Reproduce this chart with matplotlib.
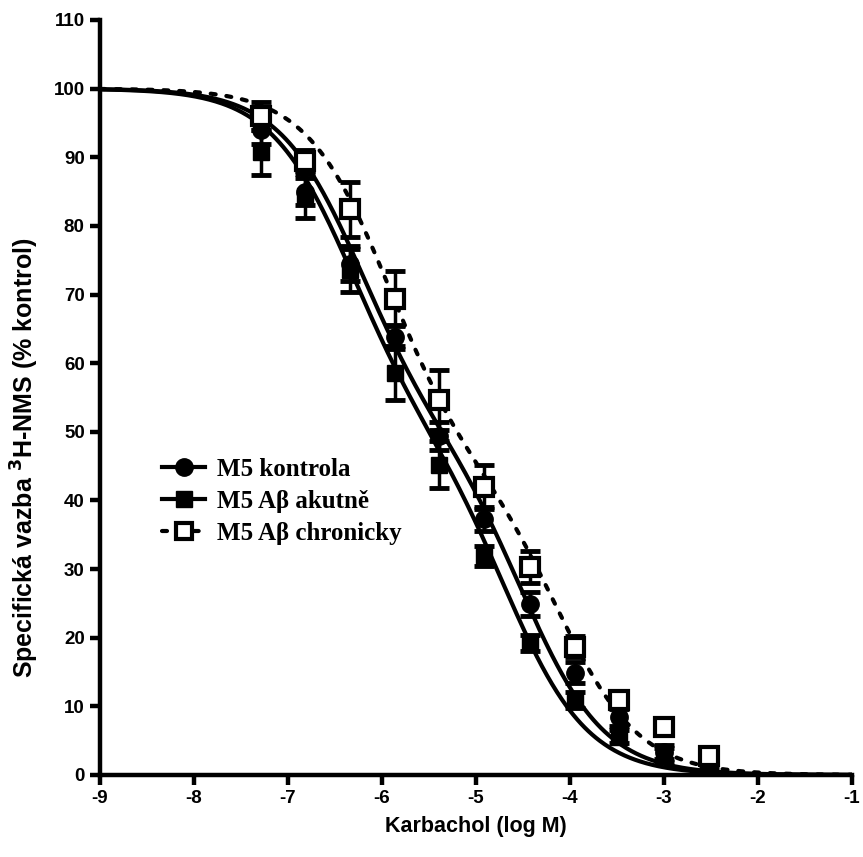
import numpy as np
import matplotlib
matplotlib.use("Agg")
import matplotlib.pyplot as plt
from matplotlib.lines import Line2D

# ---- data ----
log_conc = [-7.29, -6.82, -6.34, -5.86, -5.39, -4.91, -4.43, -3.95, -3.48, -3.00, -2.52]

kontrola      = [94.0, 85.0, 74.5, 63.8, 49.4, 37.3, 24.9, 14.9, 8.4, 3.4, 1.0]
kontrola_err  = [2.0, 2.0, 2.5, 1.8, 2.0, 1.8, 1.8, 1.5, 1.2, 1.0, 0.8]

akutne        = [90.7, 84.3, 73.5, 58.6, 45.2, 31.9, 19.2, 10.9, 5.6, 2.9, 0.5]
akutne_err    = [3.3, 3.2, 3.2, 3.9, 3.4, 1.5, 1.2, 1.2, 1.0, 1.0, 0.5]

chronicky     = [96.0, 89.5, 82.4, 69.4, 54.6, 42.0, 30.3, 18.7, 10.9, 7.0, 2.8]
chronicky_err = [2.0, 1.5, 4.0, 4.0, 4.4, 3.2, 2.3, 1.5, 1.0, 1.0, 0.8]

# two-site competition fit parameters: (fraction high, logKi high, logKi low)
fit_kontrola  = (0.50, -6.25, -4.48)
fit_akutne    = (0.50, -6.35, -4.65)
fit_chronicky = (0.55, -5.95, -4.10)

labels = ["M5 kontrola", "M5 A\u03b2 akutn\u011b", "M5 A\u03b2 chronicky"]

x_ticks = [-9, -8, -7, -6, -5, -4, -3, -2, -1]
y_ticks = list(range(0, 111, 10))


def two_site(x, p):
    f, k1, k2 = p
    return 100.0 * (f / (1.0 + 10 ** (x - k1)) + (1 - f) / (1.0 + 10 ** (x - k2)))


fig = plt.figure(figsize=(8.63, 8.57), dpi=100)
ax = fig.add_axes([0.1159, 0.0957, 0.8714, 0.881])

xx = np.linspace(-9, -1, 600)
lw_curve = 3.0
dot_style = (0, (1.2, 2.6))

ax.plot(xx, two_site(xx, fit_kontrola), color="black", lw=lw_curve, zorder=2)
ax.plot(xx, two_site(xx, fit_akutne), color="black", lw=lw_curve, zorder=2)
ax.plot(xx, two_site(xx, fit_chronicky), color="black", lw=lw_curve,
        linestyle=dot_style, dash_capstyle="round", zorder=2)

ms = 12.5
eb_kw = dict(fmt="none", ecolor="black", elinewidth=2.5, capsize=7.5, capthick=3.5)

ax.errorbar(log_conc, akutne, yerr=akutne_err, zorder=3, **eb_kw)
ax.plot(log_conc, akutne, linestyle="none", marker="s", ms=ms - 1,
        mfc="black", mec="black", zorder=4)

ax.errorbar(log_conc, kontrola, yerr=kontrola_err, zorder=5, **eb_kw)
ax.plot(log_conc, kontrola, linestyle="none", marker="o", ms=ms,
        mfc="black", mec="black", zorder=6)

ax.errorbar(log_conc, chronicky, yerr=chronicky_err, zorder=7, **eb_kw)
ax.plot(log_conc, chronicky, linestyle="none", marker="s", ms=ms,
        mfc="white", mec="black", mew=3, zorder=8)

ax.set_xlim(-9, -1)
ax.set_ylim(0, 110)
ax.set_xticks(x_ticks)
ax.set_yticks(y_ticks)
ax.set_xticklabels([str(t) for t in x_ticks])
ax.set_yticklabels([str(t) for t in y_ticks])

for s in ["top", "right"]:
    ax.spines[s].set_visible(False)
for s in ["left", "bottom"]:
    ax.spines[s].set_linewidth(3.2)
ax.tick_params(direction="out", length=7, width=3.2, pad=4)

for lab in ax.get_xticklabels() + ax.get_yticklabels():
    lab.set_fontfamily("Liberation Sans")
    lab.set_fontweight("bold")
    lab.set_fontsize(13.5)

ax.set_xlabel("Karbachol (log M)", fontfamily="Liberation Sans", fontweight="bold",
              fontsize=15.5, labelpad=6)
ax.set_ylabel(r"Specifická vazba $^{\mathbf{3}}$H-NMS (% kontrol)",
              fontfamily="Liberation Sans", fontweight="bold", fontsize=18)
ax.yaxis.set_label_coords(-0.078, 0.42)

handles = [
    Line2D([], [], color="black", lw=lw_curve, marker="o", ms=ms, mfc="black", mec="black"),
    Line2D([], [], color="black", lw=lw_curve, marker="s", ms=ms - 1, mfc="black", mec="black"),
    Line2D([], [], color="black", lw=lw_curve, linestyle=dot_style,
           dash_capstyle="round", marker="s", ms=ms - 1, mfc="white", mec="black", mew=3),
]
leg = ax.legend(handles, labels, loc="upper left", bbox_to_anchor=(0.052, 0.45),
                frameon=False, handlelength=1.75, handletextpad=0.45, labelspacing=0.36,
                prop=dict(family="Liberation Serif", weight="bold", size=18))

fig.savefig("out.png", dpi=100)
